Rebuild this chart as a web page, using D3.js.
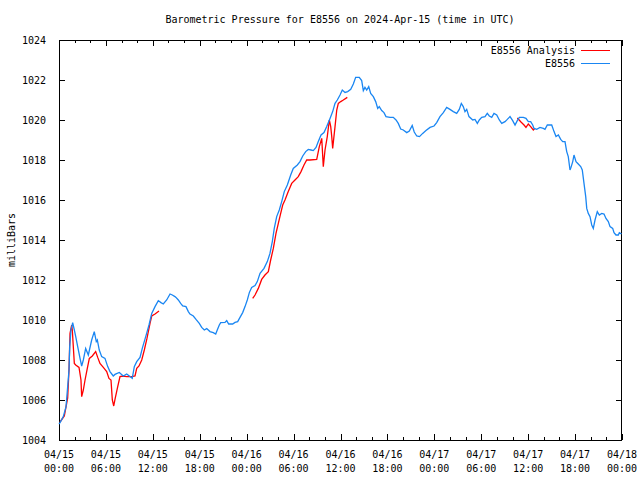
<!DOCTYPE html>
<html>
<head>
<meta charset="utf-8">
<script src="https://cdn.jsdelivr.net/npm/d3@7"></script>
<style>
  html, body { margin: 0; padding: 0; background: #fff; }
  svg { display: block; }
  text { font-family: "DejaVu Sans Mono", "Liberation Mono", monospace; font-size: 10px; fill: #000; }
</style>
</head>
<body>
<svg id="chart" width="640" height="480"></svg>
<script>
// ---- Data (hours after 2024-04-15 00:00 UTC, pressure in mbar) ----
const startTime = "2024-04-15T00:00:00Z";
const yTickValues = [1004, 1006, 1008, 1010, 1012, 1014, 1016, 1018, 1020, 1022, 1024];
const seriesNames = ["E8556 Analysis", "E8556"];

const stationHours = [0, 0.13, 0.55, 0.90, 1.11, 1.28, 1.37, 1.53, 1.75, 1.96, 2.14, 2.39, 2.69, 2.90, 3.11, 3.41, 3.75, 4.18, 4.51, 4.77, 4.90, 5.15, 5.46, 5.88, 6.23, 6.52, 6.94, 7.16, 7.71, 8.22, 8.66, 9.08, 9.37, 9.63, 9.94, 10.36, 10.65, 11.09, 11.51, 11.86, 12.28, 12.70, 13.04, 13.34, 13.77, 14.20, 14.49, 14.83, 14.96, 15.26, 15.56, 15.82, 16.24, 16.54, 16.75, 17.18, 17.52, 17.94, 18.25, 18.58, 18.89, 19.31, 19.73, 20.04, 20.24, 20.50, 20.68, 21.23, 21.45, 21.70, 22.21, 22.51, 22.85, 23.15, 23.49, 23.79, 24.08, 24.34, 24.64, 25.07, 25.36, 25.71, 26.22, 26.64, 26.98, 27.28, 27.53, 27.84, 28.17, 28.48, 28.81, 29.20, 29.63, 29.96, 30.48, 30.82, 31.17, 31.55, 31.88, 32.23, 32.52, 32.87, 33.16, 33.51, 33.89, 34.24, 34.66, 35.00, 35.30, 35.59, 35.94, 36.23, 36.58, 36.92, 37.31, 37.64, 37.94, 38.40, 38.71, 38.92, 39.13, 39.35, 39.61, 39.86, 40.20, 40.50, 40.76, 40.96, 41.27, 41.56, 41.82, 42.33, 42.75, 43.10, 43.39, 43.70, 44.03, 44.47, 44.80, 45.17, 45.43, 45.75, 46.10, 46.51, 46.93, 47.45, 47.96, 48.30, 48.72, 49.15, 49.58, 50.00, 50.43, 50.86, 51.19, 51.45, 51.70, 51.92, 52.14, 52.43, 52.91, 53.20, 53.50, 53.75, 54.06, 54.48, 54.77, 55.03, 55.34, 55.63, 55.98, 56.31, 56.62, 57.04, 57.33, 57.68, 58.02, 58.32, 58.61, 58.87, 59.38, 59.72, 60.02, 60.32, 60.58, 60.75, 61.09, 61.51, 61.94, 62.15, 62.45, 63.01, 63.31, 63.56, 63.86, 64.16, 64.42, 64.71, 64.93, 65.13, 65.35, 65.48, 65.70, 65.86, 66.12, 66.41, 66.72, 66.92, 67.14, 67.36, 67.49, 67.69, 67.91, 68.13, 68.33, 68.55, 68.84, 69.10, 69.41, 69.70, 69.95, 70.25, 70.47, 70.81, 70.98, 71.23, 71.53, 71.66, 71.94];
const stationPressure = [1004.80, 1004.87, 1005.17, 1005.67, 1006.67, 1007.50, 1008.67, 1009.50, 1009.87, 1009.50, 1009.17, 1008.67, 1008.08, 1007.70, 1008.00, 1008.58, 1008.25, 1009.00, 1009.42, 1008.92, 1009.00, 1008.50, 1008.17, 1008.08, 1007.67, 1007.42, 1007.20, 1007.28, 1007.38, 1007.20, 1007.30, 1007.17, 1007.08, 1007.67, 1007.92, 1008.13, 1008.58, 1009.17, 1009.75, 1010.33, 1010.67, 1010.97, 1010.87, 1010.80, 1011.00, 1011.30, 1011.25, 1011.17, 1011.13, 1011.00, 1010.83, 1010.70, 1010.67, 1010.42, 1010.30, 1010.20, 1010.03, 1009.83, 1009.63, 1009.50, 1009.57, 1009.42, 1009.37, 1009.30, 1009.50, 1009.75, 1009.87, 1009.88, 1009.97, 1009.80, 1009.80, 1009.88, 1009.92, 1010.13, 1010.37, 1010.67, 1011.00, 1011.37, 1011.63, 1011.72, 1011.92, 1012.33, 1012.58, 1012.92, 1013.33, 1013.92, 1014.58, 1015.17, 1015.50, 1015.92, 1016.42, 1016.75, 1017.25, 1017.58, 1017.75, 1017.92, 1018.20, 1018.42, 1018.53, 1018.50, 1018.47, 1018.63, 1018.92, 1019.25, 1019.37, 1019.67, 1020.08, 1020.42, 1020.83, 1021.00, 1021.25, 1021.50, 1021.38, 1021.42, 1021.53, 1021.80, 1022.13, 1022.13, 1021.97, 1021.47, 1021.63, 1021.50, 1021.67, 1021.33, 1021.17, 1020.92, 1020.58, 1020.67, 1020.47, 1020.37, 1020.17, 1020.13, 1020.13, 1020.00, 1019.83, 1019.55, 1019.50, 1019.37, 1019.45, 1019.73, 1019.40, 1019.20, 1019.17, 1019.33, 1019.47, 1019.63, 1019.70, 1019.87, 1020.17, 1020.37, 1020.63, 1020.53, 1020.42, 1020.33, 1020.53, 1020.83, 1020.67, 1020.42, 1020.53, 1020.17, 1020.00, 1020.03, 1019.83, 1020.00, 1020.13, 1020.17, 1020.33, 1020.20, 1020.13, 1020.33, 1020.25, 1020.00, 1019.83, 1019.92, 1020.03, 1020.17, 1019.97, 1019.75, 1019.97, 1020.13, 1020.13, 1020.08, 1019.92, 1019.92, 1019.75, 1019.58, 1019.53, 1019.63, 1019.58, 1019.53, 1019.75, 1019.75, 1019.42, 1019.17, 1019.25, 1019.03, 1018.92, 1018.92, 1018.42, 1018.17, 1017.50, 1017.63, 1017.92, 1018.25, 1017.92, 1017.80, 1017.67, 1017.50, 1016.83, 1016.17, 1015.58, 1015.33, 1015.17, 1014.75, 1014.58, 1015.00, 1015.42, 1015.25, 1015.33, 1015.30, 1015.08, 1014.92, 1014.67, 1014.58, 1014.37, 1014.25, 1014.25, 1014.37, 1014.30];

// Analysis series: null marks a gap between segments
const analysisHours = [0.13, 0.68, 0.98, 1.11, 1.28, 1.41, 1.62, 1.70, 1.96, 2.14, 2.56, 2.81, 2.90, 3.11, 3.33, 3.62, 3.88, 4.26, 4.69, 4.95, 5.24, 5.67, 6.10, 6.39, 6.65, 6.82, 7.00, 7.16, 7.51, 7.80, 8.22, 8.66, 9.30, 9.72, 9.94, 10.23, 10.58, 10.91, 11.25, 11.64, 11.86, 12.28, 12.79,
  18.0,
  24.77, 25.07, 25.49, 25.92, 26.34, 26.77, 27.07, 27.41, 27.75, 28.05, 28.35, 28.61, 28.90, 29.32, 29.76, 30.18, 30.60, 30.95, 31.33, 31.68, 32.10, 32.96, 33.29, 33.60, 33.80, 34.02, 34.31, 34.57, 34.75, 34.88, 35.00, 35.30, 35.52, 35.72, 36.03, 36.36, 36.87,
  47.0,
  58.61, 59.08, 59.47, 59.72, 60.02, 60.32, 60.66, 60.87];
const analysisPressure = [1004.90, 1005.20, 1005.83, 1006.10, 1007.53, 1009.33, 1009.75, 1009.50, 1007.83, 1007.75, 1007.63, 1007.00, 1006.17, 1006.50, 1007.00, 1007.58, 1008.08, 1008.20, 1008.42, 1008.13, 1007.83, 1007.63, 1007.42, 1007.08, 1007.00, 1006.00, 1005.70, 1006.03, 1006.67, 1007.17, 1007.20, 1007.17, 1007.17, 1007.20, 1007.58, 1007.70, 1008.00, 1008.50, 1009.08, 1009.83, 1010.20, 1010.30, 1010.45,
  null,
  1011.08, 1011.25, 1011.58, 1012.03, 1012.25, 1012.42, 1013.00, 1013.58, 1014.33, 1014.83, 1015.33, 1015.75, 1016.00, 1016.42, 1016.83, 1017.00, 1017.17, 1017.42, 1017.75, 1018.00, 1018.00, 1018.03, 1018.67, 1019.08, 1017.67, 1018.50, 1019.17, 1020.00, 1019.67, 1019.17, 1018.58, 1019.67, 1020.50, 1020.83, 1020.92, 1021.00, 1021.13,
  null,
  1020.10, 1019.90, 1019.75, 1019.63, 1019.80, 1019.67, 1019.50, 1019.58];

// ---- Layout ----
const svg = d3.select("#chart");
const margin = { left: 59, right: 18, top: 40, bottom: 40 };
const W = 640, H = 480;
const x0 = margin.left, x1 = W - margin.right, y0 = margin.top, y1 = H - margin.bottom;
const t0 = new Date(startTime);
const toDate = h => new Date(t0.getTime() + h * 3600 * 1000);
const tEnd = toDate(72);

const x = d3.scaleUtc().domain([t0, tEnd]).range([x0, x1]);
const y = d3.scaleLinear().domain([1004, 1024]).range([y1, y0]);

const colors = { analysis: "#ff0000", station: "#1a86f2" };

// Title
svg.append("text").attr("x", 340).attr("y", 23).attr("text-anchor", "middle")
  .text("Barometric Pressure for E8556 on 2024-Apr-15 (time in UTC)");

// Y label
svg.append("text").attr("transform", "translate(15,240) rotate(-90)").attr("text-anchor", "middle")
  .text("milliBars");

// Axes
const majorTimes = d3.range(0, 73, 6).map(toDate);
const minorTimes = d3.range(0, 73, 2).filter(h => h % 6 !== 0).map(toDate);
const fmtDate = d3.utcFormat("%m/%d"), fmtTime = d3.utcFormat("%H:%M");

const g = svg.append("g");
// major x ticks bottom & top
const xb = g.append("g").attr("transform", `translate(0,${y1})`)
  .call(d3.axisBottom(x).tickValues(majorTimes).tickSizeInner(-6).tickSizeOuter(0).tickFormat(""));
const xbm = g.append("g").attr("transform", `translate(0,${y1})`)
  .call(d3.axisBottom(x).tickValues(minorTimes).tickSizeInner(-3).tickSizeOuter(0).tickFormat(""));
const xt = g.append("g").attr("transform", `translate(0,${y0})`)
  .call(d3.axisTop(x).tickValues(majorTimes).tickSizeInner(-6).tickSizeOuter(0).tickFormat(""));
const xtm = g.append("g").attr("transform", `translate(0,${y0})`)
  .call(d3.axisTop(x).tickValues(minorTimes).tickSizeInner(-3).tickSizeOuter(0).tickFormat(""));
const yl = g.append("g").attr("transform", `translate(${x0},0)`)
  .call(d3.axisLeft(y).tickValues(yTickValues).tickSizeInner(-6).tickSizeOuter(0).tickPadding(13).tickFormat(d3.format("d")));
const yr = g.append("g").attr("transform", `translate(${x1},0)`)
  .call(d3.axisRight(y).tickValues(yTickValues).tickSizeInner(-6).tickSizeOuter(0).tickFormat(""));
g.selectAll(".domain").remove();
g.selectAll(".tick line").attr("stroke", "#000").attr("shape-rendering", "crispEdges");
yl.selectAll("text").attr("font-family", "DejaVu Sans Mono, monospace").attr("font-size", 10).attr("fill", "#000");

// two-line x labels
const xl = svg.append("g");
majorTimes.forEach(d => {
  const t = xl.append("text").attr("x", x(d)).attr("text-anchor", "middle");
  t.append("tspan").attr("x", x(d)).attr("y", 458).text(fmtDate(d));
  t.append("tspan").attr("x", x(d)).attr("y", 472).text(fmtTime(d));
});

// Border
svg.append("rect").attr("x", x0 + 0.5).attr("y", y0 + 0.5).attr("width", x1 - x0 - 1).attr("height", y1 - y0)
  .attr("fill", "none").attr("stroke", "#000").attr("shape-rendering", "crispEdges");

// Series
const station = stationHours.map((h, i) => ({ t: toDate(h), p: stationPressure[i] }));
const analysis = analysisHours.map((h, i) => ({ t: toDate(h), p: analysisPressure[i] }));
const line = d3.line().defined(d => d.p !== null).x(d => x(d.t)).y(d => y(d.p));

svg.append("path").datum(analysis).attr("d", line)
  .attr("fill", "none").attr("stroke", colors.analysis).attr("stroke-width", 1.3);
svg.append("path").datum(station).attr("d", line)
  .attr("fill", "none").attr("stroke", colors.station).attr("stroke-width", 1.3);

// Legend
const legend = svg.append("g");
[[seriesNames[0], colors.analysis, 50], [seriesNames[1], colors.station, 63]].forEach(([name, c, ly]) => {
  legend.append("text").attr("x", 575).attr("y", ly + 3.5).attr("text-anchor", "end").text(name);
  legend.append("line").attr("x1", 581).attr("x2", 610).attr("y1", ly + 0.5).attr("y2", ly + 0.5)
    .attr("stroke", c).attr("stroke-width", 1);
});
</script>
</body>
</html>
